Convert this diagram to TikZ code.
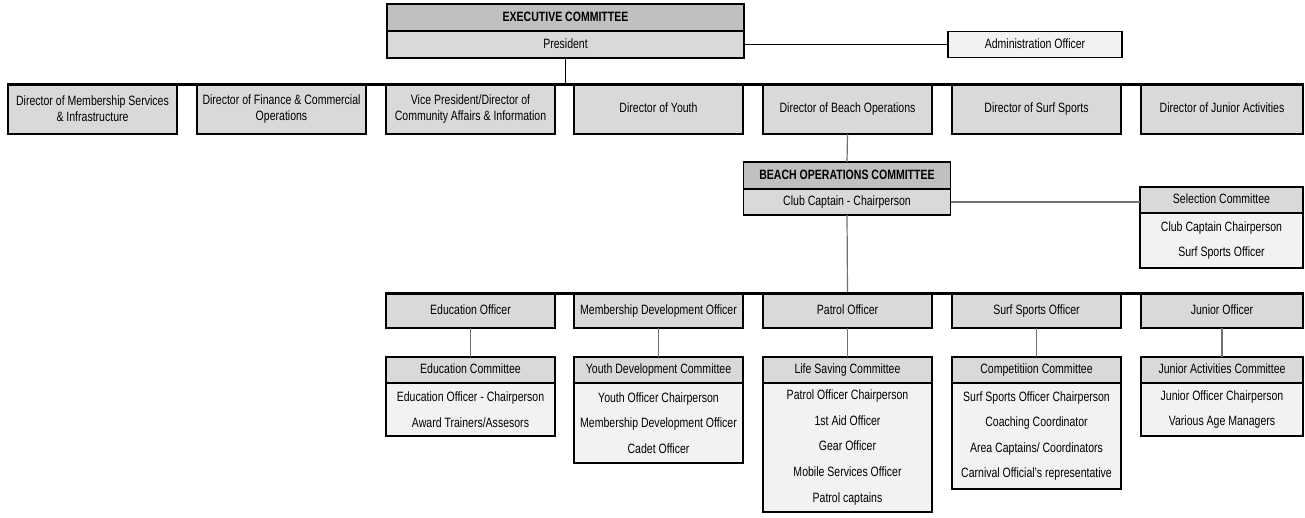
\documentclass[tikz,border=0pt]{standalone}
\usepackage{fontspec}
\setmainfont{Liberation Sans}[FakeStretch=0.78]
\usetikzlibrary{positioning}
\definecolor{headgray}{HTML}{C0C0C0}
\definecolor{boxgray}{HTML}{D9D9D9}
\definecolor{bodygray}{HTML}{F2F2F2}
\definecolor{linkgray}{HTML}{707070}

\begin{document}
\begin{tikzpicture}[x=1pt, y=-1pt,
    box/.style={draw, line width=1.4pt, fill=boxgray, outer sep=0pt, inner sep=2pt, align=center, font=\fontsize{13.5}{16}\selectfont},
    oneline/.style={text height=9.5pt, text depth=2.5pt},
    dirbox/.style={box, minimum width=169pt, minimum height=50pt},
    offbox/.style={box, oneline, minimum width=169pt, minimum height=35pt},
    exechead/.style={box, oneline, fill=headgray, minimum height=27pt, font=\fontsize{13.5}{16}\selectfont\bfseries},
    comhead/.style={box, oneline, minimum width=169pt, minimum height=26pt},
    combody/.style={box, fill=bodygray, minimum width=169pt, font=\fontsize{13.5}{25.5}\selectfont},
    bus/.style={line width=3pt},
    link/.style={draw=linkgray, line width=1.2pt}
]
    \useasboundingbox (0,0) rectangle (1305,517);

    % Executive
    \node[exechead, minimum width=357pt] (exec) at (565.5,17.5) {EXECUTIVE COMMITTEE};
    \node[box, oneline, minimum width=357pt, minimum height=27pt, below=0pt of exec] (pres) {President};
    \node[box, oneline, fill=bodygray, minimum width=174pt, minimum height=26pt] (admin) at (1035,44.5) {Administration Officer};

    % Directors
    \node[dirbox] (dms) at (92.5,109) {Director of Membership Services\\\& Infrastructure};
    \node[dirbox] (dfc) at (281.5,109) {Director of Finance \& Commercial\\Operations};
    \node[dirbox] (vp) at (470.5,109) {Vice President/Director of\\Community Affairs \& Information};
    \node[dirbox, oneline] (dy) at (658.5,109) {Director of Youth};
    \node[dirbox, oneline] (dbo) at (847.5,109) {Director of Beach Operations};
    \node[dirbox, oneline] (dss) at (1036.5,109) {Director of Surf Sports};
    \node[dirbox, oneline, minimum width=162pt] (dja) at (1222,109) {Director of Junior Activities};

    % Beach operations committee
    \node[exechead, minimum width=207pt] (boc) at (847,175.5) {BEACH OPERATIONS COMMITTEE};
    \node[box, oneline, minimum width=207pt, minimum height=26pt, below=0pt of boc] (captain) {Club Captain - Chairperson};
    \node[comhead, minimum width=163pt] (sel) at (1221.5,200) {Selection Committee};
    \node[combody, minimum width=163pt, minimum height=55pt, below=0pt of sel] (sel_body) {Club Captain Chairperson\\Surf Sports Officer};

    % Officers
    \node[offbox] (eo) at (470.5,310.5) {Education Officer};
    \node[offbox] (mdo) at (658.5,310.5) {Membership Development Officer};
    \node[offbox] (po) at (847.5,310.5) {Patrol Officer};
    \node[offbox] (sso) at (1036.5,310.5) {Surf Sports Officer};
    \node[offbox, minimum width=162pt] (jo) at (1222,310.5) {Junior Officer};

    % Committees
    \node[comhead] (ec) at (470.5,370) {Education Committee};
    \node[combody, minimum height=53pt, below=0pt of ec] (ec_body) {Education Officer - Chairperson\\Award Trainers/Assesors};
    \node[comhead] (ydc) at (658.5,370) {Youth Development Committee};
    \node[combody, minimum height=80pt, below=0pt of ydc] (ydc_body) {Youth Officer Chairperson\\Membership Development Officer\\Cadet Officer};
    \node[comhead] (lsc) at (847.5,370) {Life Saving Committee};
    \node[combody, minimum height=129pt, below=0pt of lsc] (lsc_body) {Patrol Officer Chairperson\\1st Aid Officer\\Gear Officer\\Mobile Services Officer\\Patrol captains};
    \node[comhead] (cc) at (1036.5,370) {Competitiion Committee};
    \node[combody, minimum height=106pt, below=0pt of cc] (cc_body) {Surf Sports Officer Chairperson\\Coaching Coordinator\\Area Captains/ Coordinators\\Carnival Official's representative};
    \node[comhead, minimum width=162pt] (jac) at (1222,370) {Junior Activities Committee};
    \node[combody, minimum width=162pt, minimum height=53pt, below=0pt of jac] (jac_body) {Junior Officer Chairperson\\Various Age Managers};

    % Links
    \draw[line width=1.2pt] (pres.east) -- (admin.west);
    \draw[line width=1.2pt] (pres.south) -- (pres.south |- dms.north);
    \draw[link] (dbo.south) -- (boc.north);
    \draw[link] (captain.east) -- (captain.east -| sel.west);
    \draw[link] (captain.south) -- (po.north);
    \draw[link] (eo.south) -- (ec.north);
    \draw[link] (mdo.south) -- (ydc.north);
    \draw[link] (po.south) -- (lsc.north);
    \draw[link] (sso.south) -- (cc.north);
    \draw[link] (jo.south) -- (jac.north);

    % Bus lines
    \draw[bus] (dms.north west) -- (dja.north east);
    \draw[bus] (eo.north west) -- (jo.north east);
\end{tikzpicture}
\end{document}
